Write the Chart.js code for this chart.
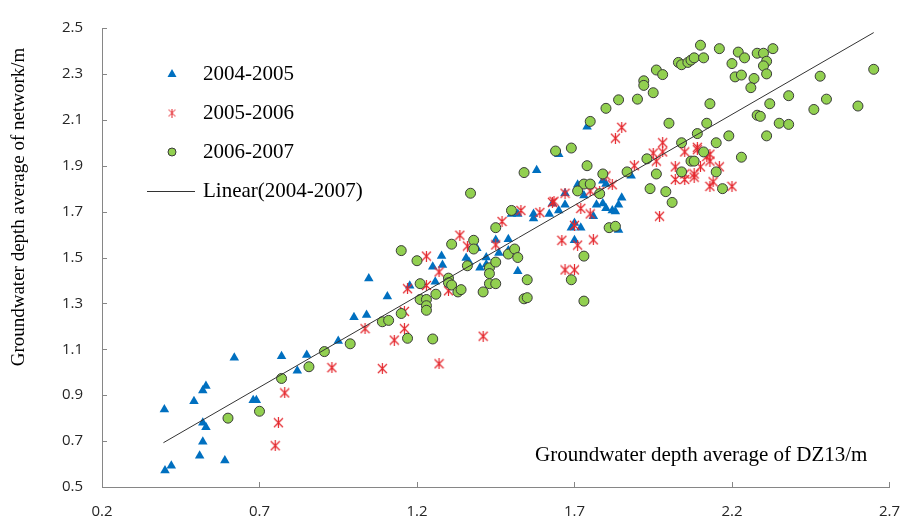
<!DOCTYPE html>
<html>
<head>
<meta charset="utf-8">
<script src="https://cdn.jsdelivr.net/npm/chart.js@4/dist/chart.umd.min.js"></script>
<style>
    html, body { margin: 0; padding: 0; background: #fff; }
    #wrap { width: 916px; height: 517px; }
</style>
</head>
<body>
<div id="wrap"><canvas id="scatterChart" width="916" height="517"></canvas></div>
<script>
// 坐标轴刻度
const xTicks = [0.2, 0.7, 1.2, 1.7, 2.2, 2.7];
const yTicks = [0.5, 0.7, 0.9, 1.1, 1.3, 1.5, 1.7, 1.9, 2.1, 2.3, 2.5];

const seriesNames = ['2004-2005', '2005-2006', '2006-2007'];
const trendName = 'Linear(2004-2007)';
const xTitle = 'Groundwater depth average of DZ13/m';
const yTitle = 'Groundwater depth average of network/m';

// 2004-2005 (blue triangles)
const x0405 = [0.398, 0.42, 0.40, 0.492, 0.52, 0.53, 0.52, 0.53, 0.52, 0.51, 0.59, 0.62, 0.68, 0.69, 0.77, 0.82,
    0.85, 0.95, 1.0, 1.04, 1.047, 1.106, 1.177, 1.258, 1.278, 1.281, 1.25, 1.356, 1.365, 1.40, 1.42, 1.42,
    1.45, 1.46, 1.49, 1.49, 1.52, 1.39, 1.50, 1.52, 1.74, 1.65, 1.58, 1.88, 1.71, 1.79, 1.80, 1.67,
    1.73, 1.85, 1.84, 1.83, 1.63, 1.67, 1.65, 1.62, 1.57, 1.57, 1.77, 1.79, 1.80, 1.82, 1.76, 1.70,
    1.69, 1.72, 1.84, 1.70];
const y0405 = [0.838, 0.593, 0.572, 0.874, 0.92, 0.94, 0.78, 0.76, 0.697, 0.636, 0.615, 1.063, 0.878, 0.878, 1.07, 1.007,
    1.075, 1.136, 1.24, 1.25, 1.408, 1.33, 1.377, 1.394, 1.506, 1.467, 1.46, 1.498, 1.48, 1.455, 1.50, 1.47,
    1.576, 1.52, 1.58, 1.53, 1.44, 1.54, 1.69, 1.69, 2.07, 1.95, 1.88, 1.856, 1.817, 1.834, 1.82, 1.78,
    1.77, 1.76, 1.73, 1.70, 1.735, 1.73, 1.705, 1.69, 1.69, 1.67, 1.73, 1.735, 1.715, 1.705, 1.68, 1.65,
    1.63, 1.63, 1.62, 1.575];

// 2005-2006 (red stars)
const x0506 = [1.035, 0.93, 0.78, 0.76, 0.75, 1.09, 1.128, 1.16, 1.16, 1.17, 1.23, 1.23, 1.27, 1.30, 1.27, 1.41,
    1.336, 1.36, 1.45, 1.47, 1.53, 1.59, 1.63, 1.635, 1.67, 1.66, 1.70, 1.71, 1.72, 1.75, 1.67, 1.70,
    1.76, 1.75, 1.78, 1.80, 1.82, 1.83, 1.85, 1.89, 1.95, 1.96, 1.98, 1.98, 1.97, 2.02, 2.02, 2.05,
    2.05, 2.05, 2.08, 2.08, 2.09, 2.09, 2.10, 2.12, 2.13, 2.13, 2.14, 2.13, 2.16, 2.20];
const y0506 = [1.19, 1.02, 0.91, 0.78, 0.68, 1.016, 1.14, 1.19, 1.265, 1.364, 1.378, 1.506, 1.437, 1.355, 1.037, 1.157,
    1.597, 1.55, 1.555, 1.657, 1.705, 1.696, 1.74, 1.745, 1.78, 1.575, 1.64, 1.554, 1.714, 1.69, 1.446, 1.446,
    1.577, 1.79, 1.787, 1.856, 1.817, 2.02, 2.067, 1.90, 1.955, 1.92, 2.0, 1.96, 1.68, 1.895, 1.84, 1.864,
    1.84, 1.96, 1.864, 1.85, 1.98, 1.97, 1.895, 1.94, 1.92, 1.95, 1.83, 1.81, 1.895, 1.81];

// 2006-2007 (green circles)
const x0607 = [0.60, 0.70, 0.77, 0.857, 0.906, 0.988, 1.09, 1.11, 1.15, 1.17, 1.25, 1.15, 1.20, 1.21, 1.21, 1.23,
    1.23, 1.23, 1.26, 1.31, 1.30, 1.30, 1.31, 1.33, 1.34, 1.36, 1.38, 1.38, 1.41, 1.43, 1.43, 1.43,
    1.45, 1.45, 1.45, 1.49, 1.51, 1.52, 1.50, 1.55, 1.54, 1.55, 1.37, 1.54, 1.64, 1.69, 1.74, 1.73,
    1.75, 1.71, 1.78, 1.79, 1.73, 1.69, 1.73, 1.81, 1.83, 1.867, 1.93, 1.96, 1.94, 1.99, 2.01, 2.04,
    2.04, 2.09, 2.07, 2.08, 2.11, 2.15, 2.15, 2.0, 2.12, 2.13, 2.19, 2.17, 2.23, 2.31, 2.28, 2.29,
    2.32, 2.35, 2.38, 2.38, 2.46, 2.50, 2.48, 2.60, 2.65, 2.10, 2.16, 2.03, 2.04, 2.06, 2.07, 2.08,
    2.11, 2.22, 2.24, 2.20, 2.28, 2.30, 2.33, 2.31, 2.30, 2.31, 2.21, 2.23, 2.27, 2.26, 1.96, 1.98,
    1.92, 1.92, 1.95, 1.90, 1.84, 1.80, 1.75];
const y0607 = [0.80, 0.83, 0.973, 1.024, 1.09, 1.124, 1.22, 1.226, 1.256, 1.148, 1.145, 1.53, 1.486, 1.386, 1.317, 1.317,
    1.29, 1.27, 1.34, 1.558, 1.41, 1.39, 1.38, 1.35, 1.36, 1.464, 1.575, 1.537, 1.35, 1.455, 1.43, 1.386,
    1.386, 1.48, 1.63, 1.515, 1.537, 1.50, 1.705, 1.403, 1.32, 1.325, 1.78, 1.87, 1.964, 1.977, 1.90, 1.82,
    1.82, 1.79, 1.778, 1.864, 1.506, 1.403, 1.31, 1.63, 1.636, 1.873, 1.93, 1.864, 1.80, 1.787, 1.74, 2.0,
    1.873, 2.04, 1.92, 1.92, 1.96, 2.0, 1.873, 2.085, 2.085, 2.17, 2.03, 1.80, 1.937, 2.03, 2.12, 2.115,
    2.17, 2.085, 2.08, 2.205, 2.145, 2.19, 2.29, 2.16, 2.32, 2.425, 2.41, 2.35, 2.34, 2.35, 2.36, 2.37,
    2.37, 2.395, 2.37, 2.345, 2.39, 2.39, 2.41, 2.355, 2.335, 2.30, 2.287, 2.295, 2.28, 2.24, 2.317, 2.297,
    2.27, 2.25, 2.218, 2.19, 2.187, 2.15, 2.093];

// 趋势线两端
const trendX = [0.395, 2.65];
const trendY = [0.693, 2.48];

const toPoints = (xs, ys) => xs.map((x, i) => ({ x: x, y: ys[i] }));

const BLUE = '#0070C0';
const RED = '#E4262C';
const GREEN = '#92D050';
const GREEN_BORDER = '#3A3A3A';
const AXIS = '#868686';
const SERIF = '"Liberation Serif", "Times New Roman", serif';

// 星形点（X + 竖线）
function makeStar(size, lw) {
    const c = document.createElement('canvas');
    c.width = size;
    c.height = size;
    const g = c.getContext('2d');
    g.strokeStyle = RED;
    g.lineWidth = lw;
    g.beginPath();
    g.moveTo(1, 1); g.lineTo(size - 1, size - 1);
    g.moveTo(size - 1, 1); g.lineTo(1, size - 1);
    g.moveTo(size / 2, 0); g.lineTo(size / 2, size);
    g.stroke();
    return c;
}
const starImg = makeStar(11, 1.2);
const starSmall = makeStar(9, 1);

// 刻度线向内 + 图例 + 坐标轴标题
const decorPlugin = {
    id: 'decor',
    afterDraw(chart) {
        const ctx = chart.ctx;
        const xs = chart.scales.x;
        const ys = chart.scales.y;
        const area = chart.chartArea;
        ctx.save();
        ctx.strokeStyle = AXIS;
        ctx.lineWidth = 1;
        ctx.beginPath();
        xTicks.forEach(v => {
            const px = Math.round(xs.getPixelForValue(v)) + 0.5;
            ctx.moveTo(px, area.bottom);
            ctx.lineTo(px, area.bottom - 5);
        });
        yTicks.forEach(v => {
            const py = Math.round(ys.getPixelForValue(v)) + 0.5;
            ctx.moveTo(area.left, py);
            ctx.lineTo(area.left + 5, py);
        });
        ctx.stroke();

        ctx.fillStyle = '#000';
        ctx.textBaseline = 'middle';

        // y轴标题
        ctx.save();
        ctx.translate(19, 207);
        ctx.rotate(-Math.PI / 2);
        ctx.textAlign = 'center';
        ctx.font = '19px ' + SERIF;
        ctx.fillText(yTitle, 0, 0);
        ctx.restore();

        // x轴标题（在绘图区内右下）
        ctx.font = '21px ' + SERIF;
        ctx.textAlign = 'left';
        ctx.fillText(xTitle, 535, 455);

        // 图例
        const rows = [74, 113, 152];
        const mx = 172;
        ctx.fillStyle = BLUE;
        ctx.beginPath();
        ctx.moveTo(mx, rows[0] - 5);
        ctx.lineTo(mx + 4.5, rows[0] + 3);
        ctx.lineTo(mx - 4.5, rows[0] + 3);
        ctx.closePath();
        ctx.fill();
        ctx.drawImage(starSmall, mx - 4.5, rows[1] - 4.5);
        ctx.fillStyle = GREEN;
        ctx.strokeStyle = GREEN_BORDER;
        ctx.beginPath();
        ctx.arc(mx, rows[2], 4, 0, Math.PI * 2);
        ctx.fill();
        ctx.stroke();
        ctx.strokeStyle = '#333';
        ctx.beginPath();
        ctx.moveTo(147, 191.5);
        ctx.lineTo(195, 191.5);
        ctx.stroke();

        ctx.fillStyle = '#000';
        seriesNames.forEach((name, i) => ctx.fillText(name, 203, rows[i]));
        ctx.fillText(trendName, 203, 191);
        ctx.restore();
    }
};

const ctx = document.getElementById('scatterChart').getContext('2d');
window._chart = new Chart(ctx, {
    type: 'scatter',
    data: {
        datasets: [
            {
                label: seriesNames[0],
                data: toPoints(x0405, y0405),
                pointStyle: 'triangle',
                pointRadius: 5.5,
                backgroundColor: BLUE,
                borderColor: BLUE,
                borderWidth: 0,
                order: 3
            },
            {
                label: seriesNames[1],
                data: toPoints(x0506, y0506),
                pointStyle: starImg,
                pointRadius: 5,
                order: 2
            },
            {
                label: seriesNames[2],
                data: toPoints(x0607, y0607),
                pointStyle: 'circle',
                pointRadius: 5,
                backgroundColor: GREEN,
                borderColor: GREEN_BORDER,
                borderWidth: 1,
                order: 1
            },
            {
                type: 'line',
                label: trendName,
                data: toPoints(trendX, trendY),
                borderColor: '#333',
                borderWidth: 1,
                pointRadius: 0,
                fill: false,
                order: 0
            }
        ]
    },
    options: {
        responsive: false,
        animation: false,
        layout: { padding: { left: 0, right: 12, top: 23, bottom: 0 } },
        plugins: {
            legend: { display: false },
            tooltip: { enabled: false }
        },
        scales: {
            x: {
                type: 'linear',
                min: 0.2,
                max: 2.7,
                afterBuildTicks: s => { s.ticks = xTicks.map(v => ({ value: v })); },
                afterFit: s => { s.height = 30; },
                grid: { display: false, drawTicks: false },
                border: { display: true, color: AXIS, width: 1 },
                ticks: {
                    padding: 16,
                    color: '#262626',
                    font: { family: '"Open Sans", sans-serif', size: 15 },
                    callback: v => Number(v).toFixed(1)
                }
            },
            y: {
                type: 'linear',
                min: 0.5,
                max: 2.5,
                afterBuildTicks: s => { s.ticks = yTicks.map(v => ({ value: v })); },
                afterFit: s => { s.width = 102; },
                grid: { display: false, drawTicks: false },
                border: { display: true, color: AXIS, width: 1 },
                ticks: {
                    padding: 19,
                    color: '#262626',
                    font: { family: '"Open Sans", sans-serif', size: 15 },
                    callback: v => Number(v).toFixed(1)
                }
            }
        }
    },
    plugins: [decorPlugin]
});
</script>
</body>
</html>
